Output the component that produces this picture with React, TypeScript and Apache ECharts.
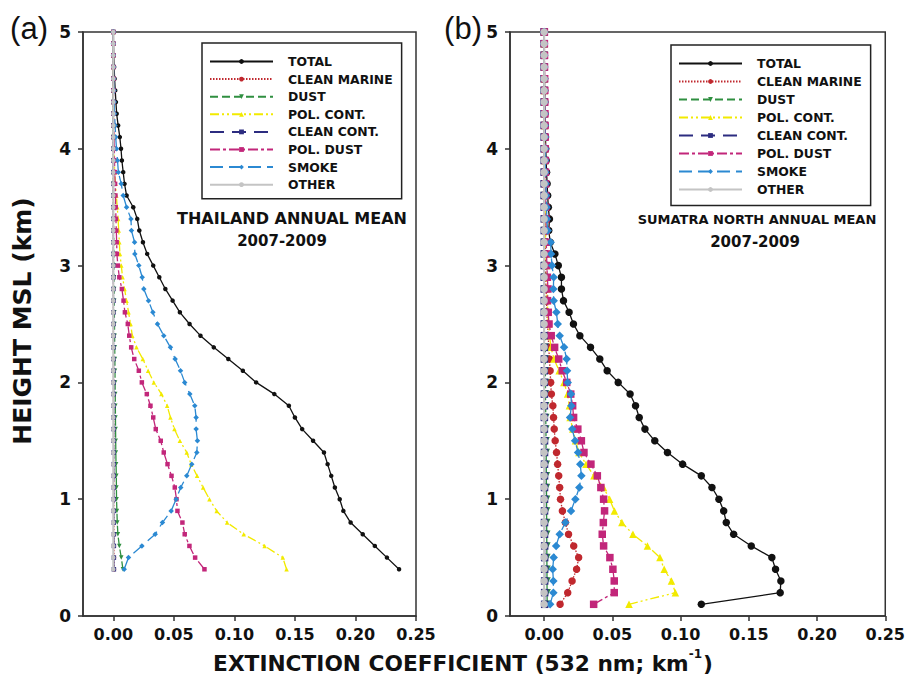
import React, { useEffect, useRef } from "react";
import * as echarts from "echarts";

// ---------- DATA ----------
const SERIES_NAMES = ["TOTAL", "CLEAN MARINE", "DUST", "POL. CONT.", "CLEAN CONT.", "POL. DUST", "SMOKE", "OTHER"];
const X_TICKS = [0, 0.05, 0.1, 0.15, 0.2, 0.25];
const Y_TICKS = [0, 1, 2, 3, 4, 5];

// Panel (a) Thailand: heights 0.4 .. 5.0 km
const heightsA = [0.4, 0.5, 0.6, 0.7, 0.8, 0.9, 1.0, 1.1, 1.2, 1.3, 1.4, 1.5, 1.6, 1.7, 1.8, 1.9, 2.0, 2.1, 2.2, 2.3, 2.4, 2.5, 2.6, 2.7, 2.8, 2.9, 3.0, 3.1, 3.2, 3.3, 3.4, 3.5, 3.6, 3.7, 3.8, 3.9, 4.0, 4.1, 4.2, 4.3, 4.4, 4.5, 4.6, 4.7, 4.8, 4.9, 5.0];
const totalA = [0.236, 0.226, 0.216, 0.206, 0.196, 0.19, 0.187, 0.183, 0.18, 0.177, 0.174, 0.165, 0.156, 0.15, 0.145, 0.133, 0.118, 0.107, 0.095, 0.083, 0.072, 0.063, 0.055, 0.049, 0.043, 0.038, 0.033, 0.028, 0.0245, 0.0215, 0.0198, 0.0165, 0.011, 0.0093, 0.0082, 0.0071, 0.0064, 0.0054, 0.004, 0.0028, 0.0022, 0.0016, 0.0011, 0.0007, 0.0004, 0.0002, 0.0001];
const cleanMarineA = [0.0006, 0.0006, 0.0005, 0.0005, 0.0005, 0.0004, 0.0004, 0.0004, 0.0004, 0.0003, 0.0003, 0.0003, 0.0003, 0.0003, 0.0002, 0.0002, 0.0002, 0.0002, 0.0002, 0.0002, 0.0001, 0.0001, 0.0001, 0.0001, 0.0001, 0.0001, 0.0001, 0.0001, 0.0001, 0.0001, 0, 0, 0, 0, 0, 0, 0, 0, 0, 0, 0, 0, 0, 0, 0, 0, 0];
const dustA = [0.008, 0.0066, 0.005, 0.0038, 0.0033, 0.003, 0.0027, 0.0026, 0.0025, 0.0023, 0.0021, 0.002, 0.0019, 0.0018, 0.0017, 0.0016, 0.0015, 0.0014, 0.0013, 0.0012, 0.0011, 0.001, 0.0009, 0.0008, 0.0007, 0.0006, 0.0005, 0.0004, 0.0004, 0.0003, 0.0003, 0.0002, 0.0002, 0.0001, 0.0001, 0.0001, 0.0001, 0, 0, 0, 0, 0, 0, 0, 0, 0, 0];
const polContA = [0.1431, 0.14, 0.125, 0.1077, 0.094, 0.0854, 0.0794, 0.0742, 0.0692, 0.0643, 0.0607, 0.055, 0.0505, 0.0472, 0.0445, 0.0398, 0.0335, 0.0288, 0.0244, 0.0192, 0.0157, 0.0143, 0.0126, 0.011, 0.0093, 0.0077, 0.0066, 0.0055, 0.005, 0.0045, 0.004, 0.0033, 0.0025, 0.0018, 0.0012, 0.0008, 0.0005, 0.0003, 0.0002, 0.0001, 0, 0, 0, 0, 0, 0, 0];
const cleanContA = [0.0005, 0.0005, 0.0005, 0.0005, 0.0004, 0.0004, 0.0004, 0.0004, 0.0004, 0.0004, 0.0003, 0.0003, 0.0003, 0.0003, 0.0003, 0.0003, 0.0003, 0.0002, 0.0002, 0.0002, 0.0002, 0.0002, 0.0002, 0.0002, 0.0001, 0.0001, 0.0001, 0.0001, 0.0001, 0.0001, 0.0001, 0.0001, 0.0001, 0.0001, 0, 0, 0, 0, 0, 0, 0, 0, 0, 0, 0, 0, 0];
const polDustA = [0.0753, 0.0676, 0.0629, 0.059, 0.0571, 0.053, 0.0522, 0.0508, 0.0481, 0.0448, 0.0417, 0.0392, 0.0351, 0.033, 0.0307, 0.0277, 0.0236, 0.0211, 0.0173, 0.0148, 0.0132, 0.012, 0.0096, 0.0085, 0.0071, 0.005, 0.0038, 0.003, 0.0028, 0.0025, 0.0022, 0.002, 0.0018, 0.0015, 0.0012, 0.001, 0.0008, 0.0006, 0.0005, 0.0004, 0.0003, 0.0002, 0.0002, 0.0001, 0.0001, 0, 0];
const smokeA = [0.009, 0.0126, 0.0236, 0.0346, 0.0406, 0.0478, 0.0519, 0.0557, 0.0607, 0.0648, 0.069, 0.0695, 0.0684, 0.0684, 0.0673, 0.0632, 0.059, 0.0555, 0.0511, 0.0472, 0.0417, 0.0365, 0.0327, 0.0291, 0.0252, 0.0239, 0.0211, 0.0178, 0.0176, 0.015, 0.0146, 0.011, 0.0082, 0.0066, 0.0042, 0.0035, 0.0027, 0.002, 0.0015, 0.001, 0.0008, 0.0005, 0.0003, 0.0002, 0.0001, 0, 0];
const otherA = [0, 0, 0, 0, 0, 0, 0, 0, 0, 0, 0, 0, 0, 0, 0, 0, 0, 0, 0, 0, 0, 0, 0, 0, 0, 0, 0, 0, 0, 0, 0, 0, 0, 0, 0, 0, 0, 0, 0, 0, 0, 0, 0, 0, 0, 0, 0];

// Panel (b) Sumatra North: heights 0.1 .. 5.0 km
const heightsB = [0.1, 0.2, 0.3, 0.4, 0.5, 0.6, 0.7, 0.8, 0.9, 1.0, 1.1, 1.2, 1.3, 1.4, 1.5, 1.6, 1.7, 1.8, 1.9, 2.0, 2.1, 2.2, 2.3, 2.4, 2.5, 2.6, 2.7, 2.8, 2.9, 3.0, 3.1, 3.2, 3.3, 3.4, 3.5, 3.6, 3.7, 3.8, 3.9, 4.0, 4.1, 4.2, 4.3, 4.4, 4.5, 4.6, 4.7, 4.8, 4.9, 5.0];
const totalB = [0.1152, 0.173, 0.1735, 0.1696, 0.1669, 0.1518, 0.1389, 0.1335, 0.1316, 0.1281, 0.123, 0.1152, 0.1015, 0.0904, 0.0811, 0.0739, 0.0697, 0.067, 0.063, 0.0543, 0.0462, 0.0408, 0.034, 0.0262, 0.0215, 0.0183, 0.0142, 0.0127, 0.0127, 0.0104, 0.0079, 0.0045, 0.0034, 0.0039, 0.0031, 0.0026, 0.0022, 0.0018, 0.0015, 0.0012, 0.001, 0.0008, 0.0006, 0.0005, 0.0004, 0.0003, 0.0002, 0.0001, 0.0001, 0];
const cleanMarineB = [0.0117, 0.0173, 0.0205, 0.0238, 0.0253, 0.0217, 0.0179, 0.0156, 0.0134, 0.012, 0.0114, 0.0107, 0.0099, 0.0091, 0.0081, 0.0074, 0.0069, 0.0064, 0.0053, 0.0048, 0.0044, 0.0039, 0.0034, 0.003, 0.0025, 0.002, 0.0017, 0.0014, 0.0012, 0.001, 0.0009, 0.0008, 0.0007, 0.0006, 0.0005, 0.0004, 0.0004, 0.0003, 0.0003, 0.0002, 0.0002, 0.0002, 0.0001, 0.0001, 0.0001, 0.0001, 0, 0, 0, 0];
const dustB = [0.0022, 0.0022, 0.0021, 0.0021, 0.002, 0.002, 0.0019, 0.0019, 0.0018, 0.0018, 0.0017, 0.0016, 0.0016, 0.0015, 0.0014, 0.0013, 0.0012, 0.0011, 0.001, 0.001, 0.0009, 0.0008, 0.0008, 0.0007, 0.0006, 0.0006, 0.0005, 0.0005, 0.0004, 0.0004, 0.0003, 0.0003, 0.0003, 0.0003, 0.0003, 0.0002, 0.0002, 0.0002, 0.0002, 0.0002, 0.0001, 0.0001, 0.0001, 0.0001, 0.0001, 0, 0, 0, 0, 0];
const polContB = [0.0622, 0.0962, 0.0933, 0.088, 0.0849, 0.0757, 0.0651, 0.057, 0.0515, 0.048, 0.0435, 0.0365, 0.0307, 0.0255, 0.023, 0.021, 0.019, 0.0185, 0.0172, 0.0145, 0.011, 0.0073, 0.005, 0.004, 0.0032, 0.0027, 0.0023, 0.002, 0.0017, 0.0015, 0.0013, 0.0011, 0.001, 0.0009, 0.0008, 0.0007, 0.0006, 0.0005, 0.0004, 0.0004, 0.0003, 0.0003, 0.0002, 0.0002, 0.0001, 0.0001, 0.0001, 0, 0, 0];
const cleanContB = [0.0004, 0.0004, 0.0004, 0.0004, 0.0004, 0.0004, 0.0003, 0.0003, 0.0003, 0.0003, 0.0003, 0.0003, 0.0003, 0.0003, 0.0003, 0.0002, 0.0002, 0.0002, 0.0002, 0.0002, 0.0002, 0.0002, 0.0002, 0.0002, 0.0001, 0.0001, 0.0001, 0.0001, 0.0001, 0.0001, 0.0001, 0.0001, 0.0001, 0.0001, 0.0001, 0, 0, 0, 0, 0, 0, 0, 0, 0, 0, 0, 0, 0, 0, 0];
const polDustB = [0.0363, 0.0514, 0.0514, 0.0504, 0.0482, 0.0436, 0.0426, 0.0434, 0.0443, 0.0436, 0.0416, 0.039, 0.0343, 0.0292, 0.0273, 0.0247, 0.0216, 0.0209, 0.0195, 0.0166, 0.0133, 0.0107, 0.0077, 0.0052, 0.0036, 0.003, 0.0025, 0.0028, 0.0024, 0.002, 0.0018, 0.0016, 0.0015, 0.0014, 0.0013, 0.0012, 0.0011, 0.001, 0.0009, 0.0008, 0.0008, 0.0007, 0.0006, 0.0005, 0.0005, 0.0004, 0.0003, 0.0003, 0.0002, 0.0002];
const smokeB = [0.0044, 0.0068, 0.0068, 0.0063, 0.007, 0.0088, 0.0114, 0.0156, 0.0197, 0.0229, 0.0258, 0.0273, 0.0265, 0.0249, 0.0227, 0.0206, 0.019, 0.02, 0.0197, 0.0173, 0.0168, 0.0165, 0.0146, 0.0114, 0.01, 0.009, 0.007, 0.0068, 0.007, 0.0058, 0.0051, 0.0048, 0.0026, 0.002, 0.0018, 0.0015, 0.0012, 0.001, 0.0008, 0.0007, 0.0006, 0.0005, 0.0004, 0.0003, 0.0002, 0.0002, 0.0001, 0.0001, 0, 0];
const otherB = [0, 0, 0, 0, 0, 0, 0, 0, 0, 0, 0, 0, 0, 0, 0, 0, 0, 0, 0, 0, 0, 0, 0, 0, 0, 0, 0, 0, 0, 0, 0, 0, 0, 0, 0, 0, 0, 0, 0, 0, 0, 0, 0, 0, 0, 0, 0, 0, 0, 0];

const panelA = [totalA, cleanMarineA, dustA, polContA, cleanContA, polDustA, smokeA, otherA];
const panelB = [totalB, cleanMarineB, dustB, polContB, cleanContB, polDustB, smokeB, otherB];

// ---------- STYLES ----------
const FONT = "DejaVu Sans";
const STYLES = [
  { color: "#111111", type: "solid", symbol: "circle", rotate: 0, width: 1.3 },
  { color: "#c0282e", type: [1.5, 1.5], symbol: "circle", rotate: 0, width: 1.3 },
  { color: "#2f8f40", type: [8, 4], symbol: "triangle", rotate: 180, width: 1.3 },
  { color: "#f2ea00", type: [9, 3, 2, 3, 2, 3], symbol: "triangle", rotate: 0, width: 1.3 },
  { color: "#2c2c80", type: [14, 8], symbol: "rect", rotate: 0, width: 1.3 },
  { color: "#c2267a", type: [10, 3, 3, 3], symbol: "rect", rotate: 0, width: 1.3 },
  { color: "#2b89d2", type: [13, 6], symbol: "diamond", rotate: 0, width: 1.3 },
  { color: "#c4c4c4", type: "solid", symbol: "circle", rotate: 0, width: 2 },
];

function buildSeries(values: number[][], heights: number[], idx: number, symSize: number) {
  return values.map((vals, k) => {
    const st = STYLES[k];
    return {
      name: SERIES_NAMES[k],
      type: "line",
      xAxisIndex: idx,
      yAxisIndex: idx,
      data: vals.map((v, i) => [v, heights[i]]),
      symbol: st.symbol,
      symbolRotate: st.rotate,
      symbolSize: st.symbol === "diamond" ? symSize + 1 : symSize,
      showSymbol: true,
      lineStyle: { color: st.color, width: st.width, type: st.type },
      itemStyle: { color: st.color },
      z: 2 + k * 0.1,
      silent: true,
    };
  });
}

function makeXAxis(gridIndex: number) {
  return {
    type: "value",
    gridIndex,
    min: -0.025,
    max: 0.25,
    axisLine: { show: true, onZero: false, lineStyle: { color: "#333", width: 1.5 } },
    axisTick: { show: true, length: 5, lineStyle: { color: "#333", width: 1.5 }, customValues: X_TICKS },
    axisLabel: {
      customValues: X_TICKS,
      formatter: (v: number) => v.toFixed(2),
      fontFamily: FONT,
      fontWeight: "bold",
      fontSize: 16,
      color: "#111",
      margin: 10,
    },
    splitLine: { show: false },
  };
}

function makeYAxis(gridIndex: number) {
  return {
    type: "value",
    gridIndex,
    min: 0,
    max: 5,
    interval: 1,
    axisLine: { show: true, onZero: false, lineStyle: { color: "#333", width: 1.5 } },
    axisTick: { show: true, length: 5, lineStyle: { color: "#333", width: 1.5 } },
    axisLabel: { fontFamily: FONT, fontWeight: "bold", fontSize: 17, color: "#111", margin: 12 },
    splitLine: { show: false },
  };
}

function makeLegend(left: number, top: number, gap: number, pad: number[]) {
  return {
    orient: "vertical",
    left,
    top,
    data: SERIES_NAMES,
    itemWidth: 63,
    itemHeight: 6,
    itemGap: gap,
    selectedMode: false,
    borderColor: "#222",
    borderWidth: 1.5,
    padding: pad,
    backgroundColor: "#fff",
    textStyle: { fontFamily: FONT, fontWeight: "bold", fontSize: 12.4, color: "#111", lineHeight: 14, padding: [0, 0, 0, 10] },
  };
}

const labelText = (x: number, y: number, text: string, size: number, extra: any = {}) => ({
  type: "text",
  x,
  y,
  style: { text, font: `bold ${size}px "${FONT}"`, fill: "#111", align: "center", verticalAlign: "middle", ...extra },
  silent: true,
});

export default function App() {
  const ref = useRef<HTMLDivElement>(null);
  useEffect(() => {
    if (!ref.current) return;
    const chart = echarts.init(ref.current, null, { renderer: "svg" });
    const option: any = {
      animation: false,
      backgroundColor: "#fff",
      grid: [
        { left: 83, top: 32, width: 333, height: 584, show: true, borderColor: "#333", borderWidth: 1.5, backgroundColor: "transparent" },
        { left: 510, top: 32, width: 376, height: 584, show: true, borderColor: "#333", borderWidth: 1.5, backgroundColor: "transparent" },
      ],
      xAxis: [makeXAxis(0), makeXAxis(1)],
      yAxis: [makeYAxis(0), makeYAxis(1)],
      legend: [
        makeLegend(202, 43, 3.6, [11.5, 9, 7, 7]),
        makeLegend(671, 45, 4, [11.5, 9, 9, 7]),
      ],
      series: [...buildSeries(panelA, heightsA, 0, 4.5), ...buildSeries(panelB, heightsB, 1, 7.5)],
      graphic: [
        { type: "text", x: 29, y: 28, style: { text: "(a)", font: '31px "Liberation Sans"', fill: "#111", align: "center", verticalAlign: "middle" }, silent: true },
        { type: "text", x: 463, y: 28, style: { text: "(b)", font: '31px "Liberation Sans"', fill: "#111", align: "center", verticalAlign: "middle" }, silent: true },
        labelText(292, 218, "THAILAND ANNUAL MEAN", 16),
        labelText(282, 241, "2007-2009", 15),
        labelText(757, 219, "SUMATRA NORTH ANNUAL MEAN", 13),
        labelText(755, 242, "2007-2009", 15),
        {
          type: "text",
          x: 22,
          y: 321,
          rotation: Math.PI / 2,
          style: { text: "HEIGHT MSL (km)", font: `bold 25px "${FONT}"`, fill: "#111", align: "center", verticalAlign: "middle" },
          silent: true,
        },
        {
          type: "text",
          x: 463,
          y: 661,
          style: {
            text: "{a|EXTINCTION COEFFICIENT (532 nm; km}{s|-1}{a|)}",
            align: "center",
            verticalAlign: "middle",
            rich: {
              a: { font: `bold 21.7px "${FONT}"`, fill: "#111", lineHeight: 26, verticalAlign: "bottom" },
              s: { font: `bold 12px "${FONT}"`, fill: "#111", lineHeight: 26, verticalAlign: "top", padding: [0, 1, 10, 0] },
            },
          },
          silent: true,
        },
      ],
    };
    chart.setOption(option);
    return () => chart.dispose();
  }, []);
  return <div ref={ref} style={{ position: "absolute", left: 0, top: 0, width: 908, height: 686 }} />;
}
